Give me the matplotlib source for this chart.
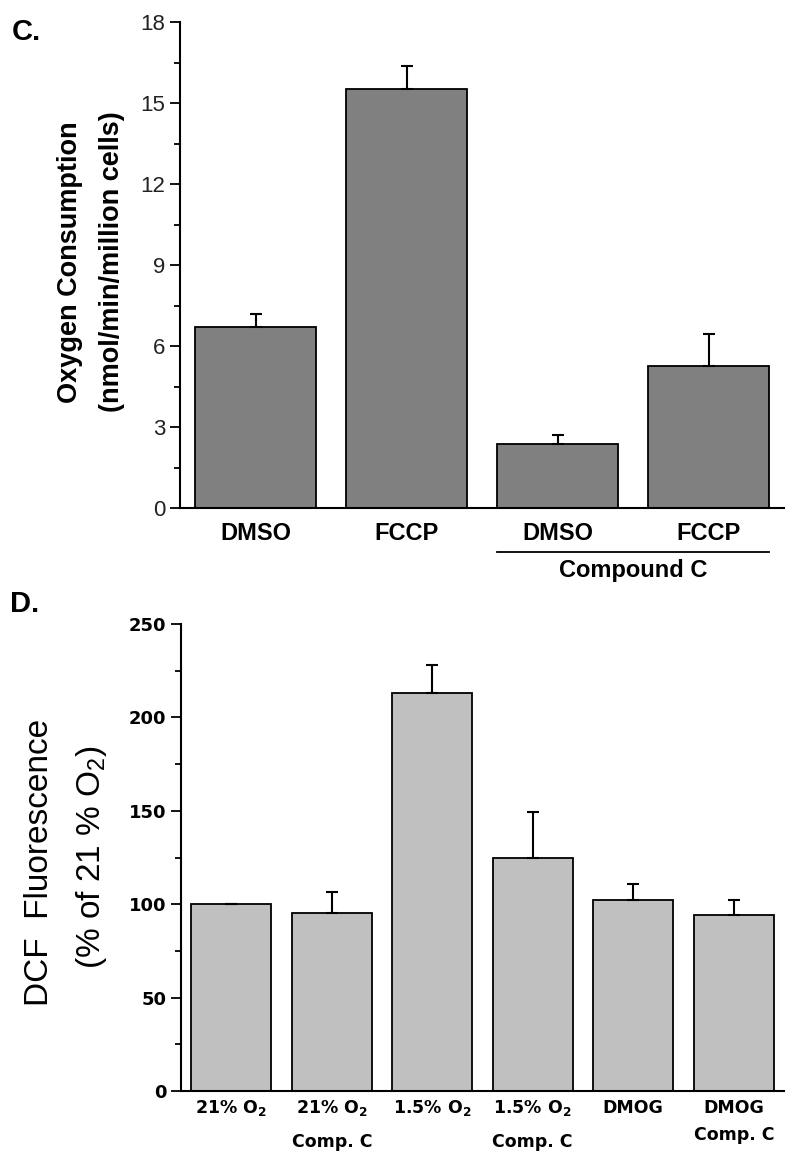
import matplotlib
matplotlib.use("Agg")
import matplotlib.pyplot as plt
import matplotlib.transforms as mtransforms
import numpy as np

plt.rcParams['font.family'] = ['Liberation Sans', 'DejaVu Sans']
plt.rcParams['mathtext.fontset'] = 'custom'
plt.rcParams['mathtext.rm'] = 'Liberation Sans'
plt.rcParams['mathtext.bf'] = 'DejaVu Sans:bold'

# ---- Panel C data ----
c_labels = ["DMSO", "FCCP", "DMSO", "FCCP"]
c_values = [6.72, 15.52, 2.37, 5.27]
c_errors = [0.45, 0.85, 0.33, 1.17]
c_yticks = [0, 3, 6, 9, 12, 15, 18]

# ---- Panel D data ----
d_line1 = [r"21% O$_{\mathbf{2}}$", r"21% O$_{\mathbf{2}}$", r"1.5% O$_{\mathbf{2}}$",
           r"1.5% O$_{\mathbf{2}}$", "DMOG", "DMOG"]
d_line2 = ["", "Comp. C", "", "Comp. C", "", "Comp. C"]
d_values = [100, 95.2, 213.2, 124.5, 102.5, 94.0]
d_errors = [0, 11.5, 15.0, 25.0, 8.2, 8.5]
d_yticks = [0, 50, 100, 150, 200, 250]

W, H = 792, 1157
fig = plt.figure(figsize=(W / 100, H / 100), dpi=100)

def style_axes(ax):
    for s in ("top", "right"):
        ax.spines[s].set_visible(False)
    for s in ("left", "bottom"):
        ax.spines[s].set_linewidth(1.5)
    ax.tick_params(axis="y", which="major", direction="out", length=7, width=1.3)
    ax.tick_params(axis="y", which="minor", direction="out", length=4, width=1.3)
    ax.tick_params(axis="x", length=0)

# ================= Panel C =================
ax1 = fig.add_axes([180 / W, 1 - 508 / H, 604 / W, 486 / H])
x1 = np.arange(len(c_values))
ax1.bar(x1, c_values, width=0.8, color="#808080", edgecolor="black", linewidth=1.3, zorder=2)
ax1.errorbar(x1, c_values, yerr=[np.zeros(len(c_errors)), c_errors], fmt="none",
             ecolor="black", elinewidth=1.5, capsize=4, capthick=1.5, zorder=3)
ax1.set_xlim(-0.5, 3.5)
ax1.set_ylim(0, 18)
ax1.set_yticks(c_yticks)
ax1.set_yticks(np.arange(1.5, 18, 3), minor=True)
ax1.set_yticklabels([str(t) for t in c_yticks], fontsize=16, color="#222222")
style_axes(ax1)
ax1.set_xticks([])
tr1 = mtransforms.blended_transform_factory(ax1.transData, ax1.transAxes)
for xi, lab in zip(x1, c_labels):
    ax1.text(xi, -0.066, lab, transform=tr1, ha="center", va="baseline",
             fontsize=17, fontweight="bold")
ax1.plot([1.6, 3.4], [-0.0905, -0.0905], transform=tr1, color="black", lw=1.3, clip_on=False)
ax1.text(2.5, -0.142, "Compound C", transform=tr1, ha="center", va="baseline",
         fontsize=17, fontweight="bold")
ax1.text(-0.182, 0.506, "Oxygen Consumption", transform=ax1.transAxes, rotation=90,
         ha="center", va="center", fontsize=19.5, fontweight="bold")
ax1.text(-0.1126, 0.506, "(nmol/min/million cells)", transform=ax1.transAxes, rotation=90,
         ha="center", va="center", fontsize=19.5, fontweight="bold")
fig.text(12 / W, 1 - 32 / H, "C.", ha="left", va="center", fontsize=21, fontweight="bold")

# ================= Panel D =================
ax2 = fig.add_axes([181 / W, 1 - 1091 / H, 603 / W, 467 / H])
x2 = np.arange(len(d_values))
ax2.bar(x2, d_values, width=0.8, color="#c0c0c0", edgecolor="black", linewidth=1.3, zorder=2)
ax2.errorbar(x2, d_values, yerr=[np.zeros(len(d_errors)), d_errors], fmt="none",
             ecolor="black", elinewidth=1.5, capsize=4, capthick=1.5, zorder=3)
ax2.set_xlim(-0.5, 5.5)
ax2.set_ylim(0, 250)
ax2.set_yticks(d_yticks)
ax2.set_yticks(np.arange(25, 250, 50), minor=True)
ax2.set_yticklabels([str(t) for t in d_yticks], fontsize=13, fontweight="bold",
                    family="DejaVu Sans")
style_axes(ax2)
ax2.set_xticks([])
tr2 = mtransforms.blended_transform_factory(ax2.transData, ax2.transAxes)
for i, (xi, l1, l2) in enumerate(zip(x2, d_line1, d_line2)):
    ax2.text(xi, -0.047, l1, transform=tr2, ha="center", va="baseline",
             fontsize=12.5, fontweight="bold", family="DejaVu Sans")
    if l2:
        yb = -0.105 if i == len(x2) - 1 else -0.12
        ax2.text(xi, yb, l2, transform=tr2, ha="center", va="baseline",
                 fontsize=12.5, fontweight="bold", family="DejaVu Sans")
ax2.text(-0.234, 0.49, "DCF  Fluorescence", transform=ax2.transAxes, rotation=90,
         ha="center", va="center", fontsize=24)
ax2.text(-0.1476, 0.501, r"(% of 21 % O$_{\rm 2}$)", transform=ax2.transAxes, rotation=90,
         ha="center", va="center", fontsize=24)
fig.text(10 / W, 1 - 604 / H, "D.", ha="left", va="center", fontsize=21, fontweight="bold")

fig.savefig("out.png", dpi=100)
